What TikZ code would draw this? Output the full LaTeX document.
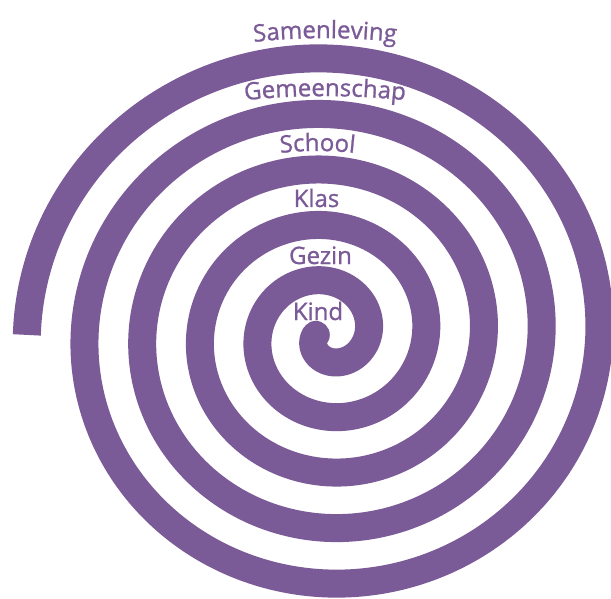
\documentclass[tikz,border=0pt]{standalone}
\usepackage{fontspec}
\setmainfont{Open Sans}
\newfontfamily\lblfont[FakeBold=1]{Open Sans}
\usetikzlibrary{decorations.text}
\definecolor{spiralpurple}{HTML}{7B5A98}
\begin{document}
\begin{tikzpicture}[x=1pt,y=-1pt,
  spiralband/.style={draw=spiralpurple, line width=28pt, line cap=butt, line join=round},
  lbl/.style={text=spiralpurple, font=\lblfont\fontsize{24}{28}\selectfont, anchor=base, inner sep=0pt},
  arclbl/.style={decorate, decoration={text along path, text align=center,
      text={|\lblfont\fontsize{24}{28}\selectfont\color{spiralpurple}|#1}}}]
\useasboundingbox (0,0) rectangle (611,599);
\fill[white] (0,0) rectangle (611,599);
\draw[spiralband] plot[domain=0:20, samples=600, variable=\q, smooth]
  ({327.5-(300.7-14.45*\q)*cos(90*\q)}, {334.9-(290.3-13.9*\q)*sin(90*\q)});
\coordinate (innerend) at (315.8,334.9);
\fill[spiralpurple] (innerend) circle[radius=14];
\coordinate (samA) at (246,43);
\coordinate (samB) at (404,43);
\path[arclbl={Samenleving}] (samA) .. controls (296,36.5) and (354,36.5) .. (samB);
\coordinate (gemA) at (238,101);
\coordinate (gemB) at (412,101);
\path[arclbl={Gemeenschap}] (gemA) .. controls (293,94.5) and (357,94.5) .. (gemB);
\coordinate (schA) at (272,154);
\coordinate (schB) at (363,154);
\path[arclbl={School}] (schA) .. controls (302,150) and (333,150) .. (schB);
\node[lbl] (klas) at (316.5,207) {Klas};
\node[lbl] (gezin) at (320.5,264) {Gezin};
\node[lbl] (kind) at (318,320) {Kind};
\end{tikzpicture}
\end{document}
